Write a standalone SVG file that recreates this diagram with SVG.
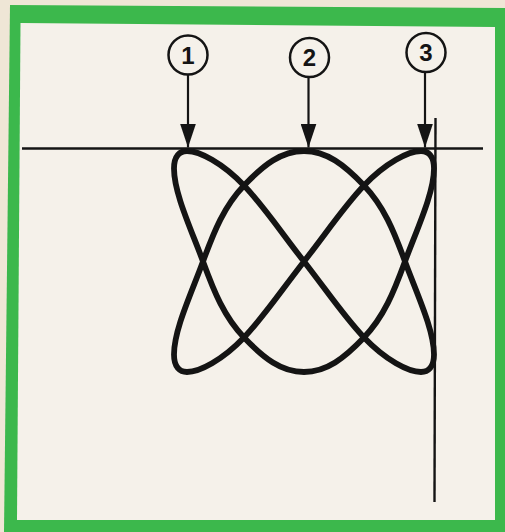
<svg xmlns="http://www.w3.org/2000/svg" width="505" height="532" viewBox="0 0 505 532">
  <defs>
    <style>
      .ink { stroke: #141414; fill: none; }
      .thin { stroke-width: 2.4; }
      .curve { stroke-width: 5.8; stroke-linejoin: round; }
      .ring { stroke: #141414; stroke-width: 2.5; fill: none; }
      .num { font-family: "Liberation Sans", Arial, sans-serif; font-size: 24px; font-weight: bold; fill: #141414; text-anchor: middle; }
      .shaft { stroke: #141414; stroke-width: 2.2; fill: none; }
    </style>
    <marker id="head" viewBox="0 0 24 16" refX="24" refY="8" markerWidth="24" markerHeight="16" markerUnits="userSpaceOnUse" orient="auto">
      <path d="M0,0 L24,8 L0,16 Z" fill="#141414"/>
    </marker>
  </defs>

  <!-- paper and frame -->
  <rect x="0" y="0" width="505" height="532" fill="#efe6d6"/>
  <polygon points="10,5 505,8 505,532 4,532" fill="#3cb84c"/>
  <polygon points="20.5,23 495,27 495,520 17,520" fill="#f5f1ea"/>

  <!-- axes -->
  <g id="axes" class="ink thin">
    <line x1="22" y1="148.5" x2="483" y2="148.5"/>
    <line x1="435.5" y1="118" x2="434.5" y2="502"/>
  </g>

  <!-- Lissajous figure -->
  <g id="figure">
    <path class="ink curve" d="M304,151 C326.7,151 344.35,164.95 364,185.5 C383.65,206.05 393.7,230.5 405,261.5 C416.3,292.5 434,329.5 434,354.5 C434,367.5 428,372 421,372 C408.6,372 385.6,360.1 364,337.5 C344.35,316.95 326.7,290.56 304,261.5 C281.3,232.44 263.65,206.05 244,185.5 C222.4,162.9 199.4,151 187,151 C180,151 174,155.5 174,168.5 C174,193.5 191.7,230.5 203,261.5 C214.3,292.5 224.35,316.95 244,337.5 C263.65,358.05 281.3,372 304,372 C326.7,372 344.35,358.05 364,337.5 C383.65,316.95 393.7,292.5 405,261.5 C416.3,230.5 434,193.5 434,168.5 C434,155.5 428,151 421,151 C408.6,151 385.6,162.9 364,185.5 C344.35,206.050 326.7,232.44 304,261.5 C281.3,290.56 263.65,316.95 244,337.5 C222.4,360.1 199.4,372 187,372 C180,372 174,367.5 174,354.5 C174,329.5 191.7,292.5 203,261.5 C214.3,230.5 224.35,206.05 244,185.5 C263.65,164.95 281.3,151 304,151 Z"/>
  </g>

  <!-- labels -->
  <g id="label-1">
    <circle class="ring" cx="188" cy="55" r="19.5"/>
    <text class="num" x="188" y="63.5">1</text>
  </g>
  <g id="label-2">
    <circle class="ring" cx="309.5" cy="57.5" r="19.5"/>
    <text class="num" x="309.5" y="66">2</text>
  </g>
  <g id="label-3">
    <circle class="ring" cx="426" cy="52.5" r="19.5"/>
    <text class="num" x="426" y="61">3</text>
  </g>

  <!-- connectors -->
  <g id="connectors">
    <line class="shaft" x1="188" y1="74.5" x2="188" y2="147.5" marker-end="url(#head)"/>
    <line class="shaft" x1="308.5" y1="77" x2="308.5" y2="147.5" marker-end="url(#head)"/>
    <line class="shaft" x1="425" y1="72" x2="425" y2="147.5" marker-end="url(#head)"/>
  </g>
</svg>
